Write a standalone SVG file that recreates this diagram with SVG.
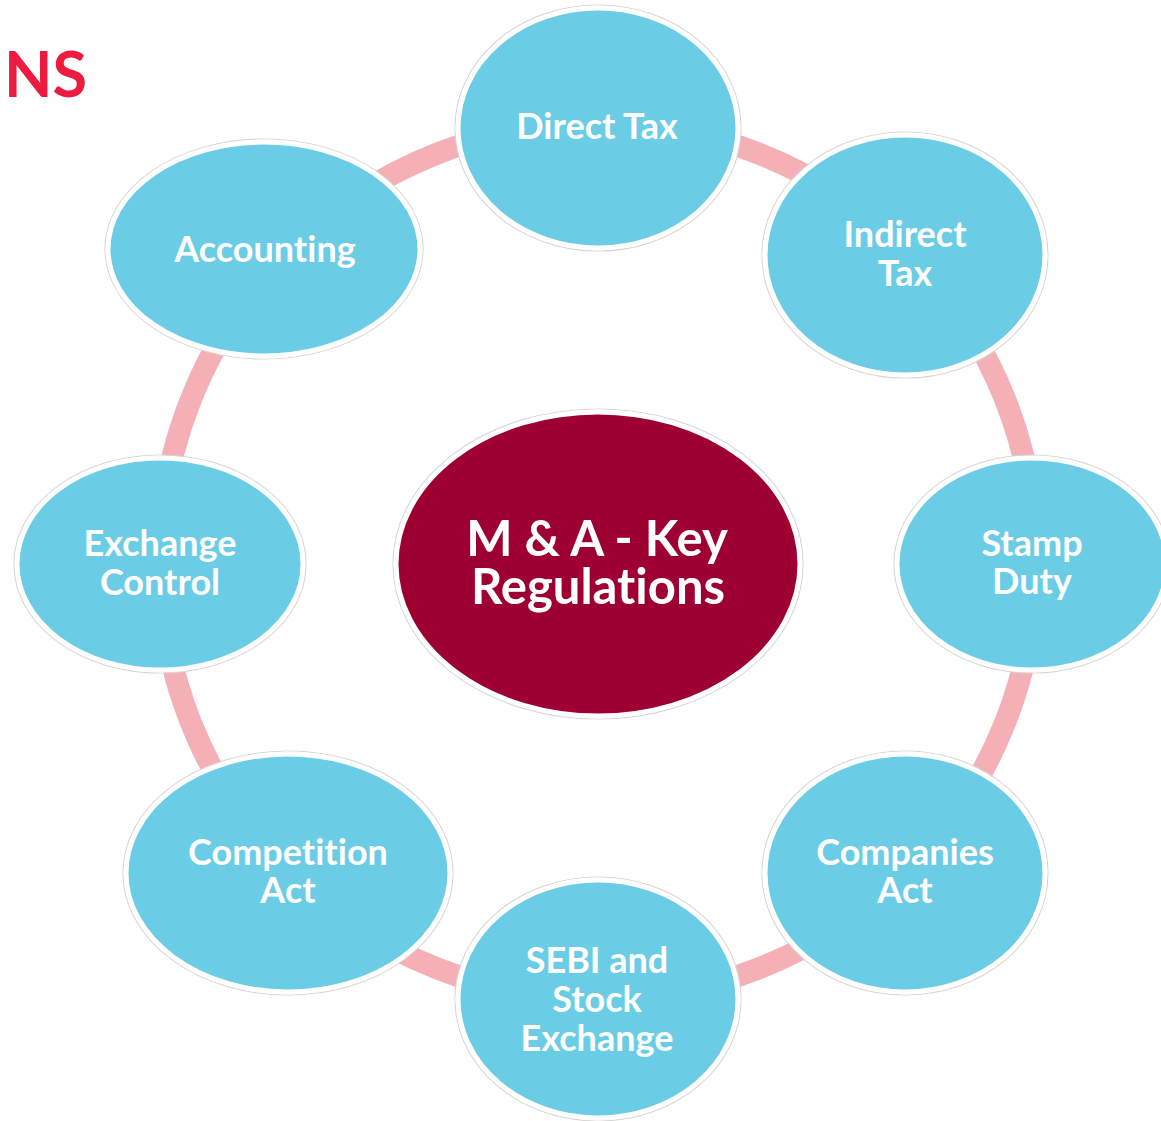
<svg xmlns="http://www.w3.org/2000/svg" width="1161" height="1121" viewBox="0 0 1161 1121">
<style>
.node{fill:#6BCDE5;stroke:#FFFFFF;stroke-width:5}
.outer{fill:none;stroke:#D6D6D6;stroke-width:1.2}
.center{fill:#9E0031;stroke:#FFFFFF;stroke-width:5}
.lbl{font-family:Lato,"Open Sans","Liberation Sans",sans-serif;font-weight:bold;font-size:36px;fill:#FFFFFF;text-anchor:middle;font-variant-ligatures:none;font-feature-settings:"liga" 0,"clig" 0,"dlig" 0,"calt" 0}
.clbl{font-family:Lato,"Open Sans","Liberation Sans",sans-serif;font-weight:bold;font-size:49px;fill:#FFFFFF;text-anchor:middle;font-variant-ligatures:none;font-feature-settings:"liga" 0,"clig" 0,"dlig" 0,"calt" 0}
.ring{fill:none;stroke:#F4B0B5;stroke-width:22}
</style>
<rect width="1161" height="1121" fill="#FFFFFF"/>
<text x="4" y="97" style="font-family:Lato,'Open Sans','Liberation Sans',sans-serif;font-weight:bold;font-size:63px;fill:#EC1B3F">NS</text>
<g id="connectors">
<ellipse class="ring" cx="598" cy="561" rx="438" ry="438"/>
</g>
<g id="center">
<ellipse class="outer" cx="598" cy="564" rx="205" ry="155"/>
<ellipse class="center" cx="598" cy="564" rx="202" ry="152"/>
<text class="clbl" x="597" y="556">M &amp; A - Key</text>
<text class="clbl" x="598" y="604">Regulations</text>
</g>
<g id="direct-tax">
<ellipse class="outer" cx="598" cy="128" rx="143" ry="123"/>
<ellipse class="node" cx="598" cy="128" rx="140" ry="120"/>
<text class="lbl" x="597" y="139">Direct Tax</text>
</g>
<g id="indirect-tax">
<ellipse class="outer" cx="905" cy="255" rx="143" ry="123"/>
<ellipse class="node" cx="905" cy="255" rx="140" ry="120"/>
<text class="lbl" x="905" y="247">Indirect</text>
<text class="lbl" x="905" y="286">Tax</text>
</g>
<g id="stamp-duty">
<ellipse class="outer" cx="1032" cy="564" rx="138" ry="109"/>
<ellipse class="node" cx="1032" cy="564" rx="135" ry="106"/>
<text class="lbl" x="1032" y="556">Stamp</text>
<text class="lbl" x="1032" y="594">Duty</text>
</g>
<g id="companies-act">
<ellipse class="outer" cx="905" cy="873" rx="143" ry="122"/>
<ellipse class="node" cx="905" cy="873" rx="140" ry="119"/>
<text class="lbl" x="905" y="865">Companies</text>
<text class="lbl" x="905" y="903">Act</text>
</g>
<g id="sebi">
<ellipse class="outer" cx="598" cy="999" rx="143" ry="122"/>
<ellipse class="node" cx="598" cy="999" rx="140" ry="119"/>
<text class="lbl" x="597" y="973">SEBI and</text>
<text class="lbl" x="597" y="1012">Stock</text>
<text class="lbl" x="597" y="1051">Exchange</text>
</g>
<g id="competition-act">
<ellipse class="outer" cx="288" cy="873" rx="165" ry="122"/>
<ellipse class="node" cx="288" cy="873" rx="162" ry="119"/>
<text class="lbl" x="288" y="865">Competition</text>
<text class="lbl" x="288" y="903">Act</text>
</g>
<g id="exchange-control">
<ellipse class="outer" cx="160" cy="564" rx="146" ry="109"/>
<ellipse class="node" cx="160" cy="564" rx="143" ry="106"/>
<text class="lbl" x="160" y="556">Exchange</text>
<text class="lbl" x="160" y="595">Control</text>
</g>
<g id="accounting">
<ellipse class="outer" cx="264" cy="249" rx="159" ry="110"/>
<ellipse class="node" cx="264" cy="249" rx="156" ry="107"/>
<text class="lbl" x="265" y="262">Accounting</text>
</g>
</svg>
